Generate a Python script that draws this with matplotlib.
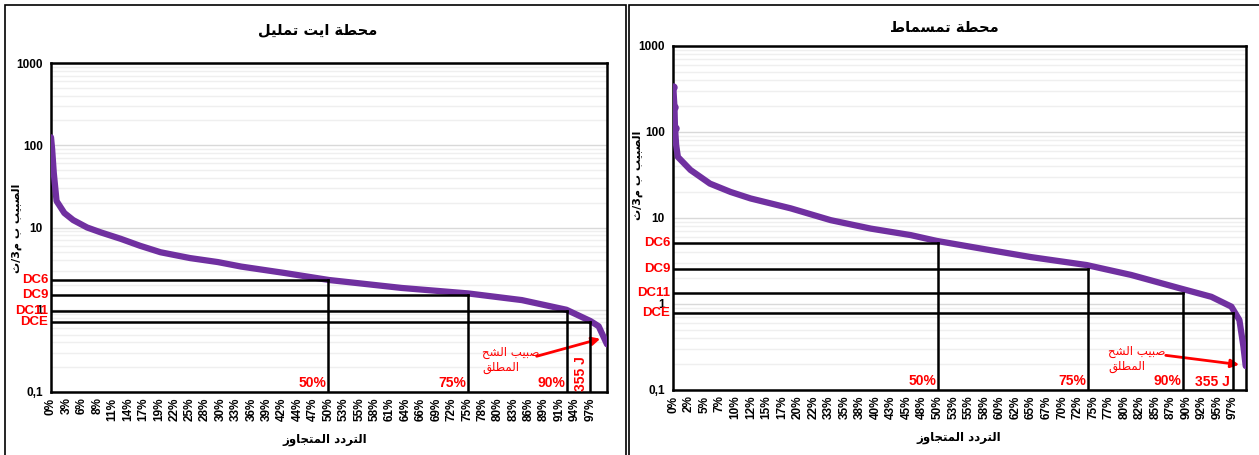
import numpy as np
import matplotlib
matplotlib.use("Agg")
import matplotlib.pyplot as plt
from matplotlib.patches import Rectangle

# ---- data ----
# left station (ايت تمليل)
left_title = "محطة ايت تمليل"
left_pos = [0.0, 0.002, 0.005, 0.01, 0.024, 0.04, 0.065, 0.09, 0.125, 0.16, 0.197, 0.25,
            0.3, 0.342, 0.42, 0.5, 0.631, 0.75, 0.847, 0.927, 0.97, 0.985, 1.0]
left_q = [125, 90, 46, 21, 15, 12.3, 10, 8.7, 7.3, 6.0, 5.0, 4.25,
          3.8, 3.35, 2.8, 2.3, 1.84, 1.58, 1.31, 1.0, 0.73, 0.63, 0.38]
left_ticks = ["0%", "3%", "6%", "8%", "11%", "14%", "17%", "19%", "22%", "25%", "28%", "30%",
              "33%", "36%", "39%", "42%", "44%", "47%", "50%", "53%", "55%", "58%", "61%", "64%",
              "66%", "69%", "72%", "75%", "78%", "80%", "83%", "86%", "89%", "91%", "94%", "97%"]
left_dc = [2.28, 1.51, 0.96, 0.70]
left_dc_pos = [0.499, 0.75, 0.928, 0.970]

# right station (تمسماط)
right_title = "محطة تمسماط"
right_pos = [0.0, 0.002, 0.003, 0.005, 0.008, 0.03, 0.064, 0.1, 0.135, 0.205, 0.275,
             0.345, 0.415, 0.46, 0.555, 0.625, 0.722, 0.8, 0.888, 0.94, 0.975,
             0.989, 0.996, 1.0]
right_q = [330, 195, 110, 70, 51, 36, 25, 20, 16.8, 12.9, 9.4,
           7.5, 6.3, 5.4, 4.2, 3.5, 2.83, 2.17, 1.5, 1.21, 0.93,
           0.65, 0.32, 0.19]
right_ticks = ["0%", "2%", "5%", "7%", "10%", "12%", "15%", "17%", "20%", "22%", "33%", "35%",
               "38%", "40%", "43%", "45%", "48%", "50%", "53%", "55%", "58%", "60%", "62%", "65%",
               "67%", "70%", "72%", "75%", "77%", "80%", "82%", "85%", "87%", "90%", "92%", "95%", "97%"]
right_dc = [5.06, 2.54, 1.34, 0.78]
right_dc_pos = [0.462, 0.725, 0.89, 0.978]

dc_names = ["DC6", "DC9", "DC11", "DCE"]
pct_names = ["50%", "75%", "90%", "355 J"]

# ---- minimal arabic shaping (presentation forms, visual order) ----
FORMS = {
    "ا": (0xFE8D, 0xFE8E, None, None), "ب": (0xFE8F, 0xFE90, 0xFE91, 0xFE92),
    "ة": (0xFE93, 0xFE94, None, None), "ت": (0xFE95, 0xFE96, 0xFE97, 0xFE98),
    "ث": (0xFE99, 0xFE9A, 0xFE9B, 0xFE9C), "ج": (0xFE9D, 0xFE9E, 0xFE9F, 0xFEA0),
    "ح": (0xFEA1, 0xFEA2, 0xFEA3, 0xFEA4), "د": (0xFEA9, 0xFEAA, None, None),
    "ر": (0xFEAD, 0xFEAE, None, None), "ز": (0xFEAF, 0xFEB0, None, None),
    "س": (0xFEB1, 0xFEB2, 0xFEB3, 0xFEB4), "ش": (0xFEB5, 0xFEB6, 0xFEB7, 0xFEB8),
    "ص": (0xFEB9, 0xFEBA, 0xFEBB, 0xFEBC), "ط": (0xFEC1, 0xFEC2, 0xFEC3, 0xFEC4),
    "ق": (0xFED5, 0xFED6, 0xFED7, 0xFED8), "ل": (0xFEDD, 0xFEDE, 0xFEDF, 0xFEE0),
    "م": (0xFEE1, 0xFEE2, 0xFEE3, 0xFEE4), "و": (0xFEED, 0xFEEE, None, None),
    "ي": (0xFEF1, 0xFEF2, 0xFEF3, 0xFEF4),
}


def ar(text):
    lines = []
    for line in text.split("\n"):
        out = []
        for i, ch in enumerate(line):
            if ch not in FORMS:
                out.append(ch)
                continue
            prev = line[i - 1] if i > 0 else ""
            nxt = line[i + 1] if i + 1 < len(line) else ""
            f = FORMS[ch]
            jp = prev in FORMS and FORMS[prev][2] is not None
            jn = nxt in FORMS and f[2] is not None
            if jp and jn:
                c = f[3]
            elif jp:
                c = f[1]
            elif jn:
                c = f[2]
            else:
                c = f[0]
            out.append(chr(c))
        lines.append("".join(reversed(out)))
    return "\n".join(lines)


W, H = 1259, 455
fig = plt.figure(figsize=(W / 100, H / 100), dpi=100)
LAT = ["Liberation Sans", "DejaVu Sans"]
ARF = ["DejaVu Sans"]


def px(x, y):
    return x / W, 1 - y / H


# panel frames
fig.add_artist(Rectangle(px(5, 460), 621 / W, 455 / H, transform=fig.transFigure,
                         fill=False, lw=1.2, ec="black"))
fig.add_artist(Rectangle(px(629, 460), 640 / W, 455 / H, transform=fig.transFigure,
                         fill=False, lw=1.2, ec="black"))


def panel(rect, pos, q, ticks, tick_end, dc, dc_pos, title, tpos, ylpos, xlpos,
          ann_from, ann_to, j_rot, n_dots):
    ax = fig.add_axes(rect)
    ax.set_yscale("log")
    ax.set_ylim(0.1, 1000)
    ax.set_xlim(0, 1)
    ax.grid(True, which="major", axis="y", color="#d9d9d9", lw=1)
    ax.grid(True, which="minor", axis="y", color="#efefef", lw=1)
    ax.set_axisbelow(True)
    for s in ax.spines.values():
        s.set_linewidth(1.8)
    ax.tick_params(which="both", length=0)

    ax.plot(pos, q, color="#7030A0", lw=4.5, solid_capstyle="round", zorder=3)
    if n_dots:
        ax.plot(pos[:n_dots], q[:n_dots], "o", color="#7030A0", ms=5, zorder=3)

    # DC lines
    for d, p, name in zip(dc, dc_pos, dc_names):
        ax.plot([0, p], [d, d], color="black", lw=1.8, zorder=4)
        ax.plot([p, p], [0.1, d], color="black", lw=1.8, zorder=4)
        ax.text(-0.005, d, name, color="red", fontweight="bold", fontsize=9.5,
                family=LAT, ha="right", va="center", transform=ax.get_yaxis_transform())
    for p, name in zip(dc_pos[:3], pct_names[:3]):
        ax.text(p - 0.003, 0.106, name, color="red", fontweight="bold", fontsize=10,
                family=LAT, ha="right", va="bottom")
    if j_rot:
        ax.text(dc_pos[3] - 0.004, 0.104, pct_names[3], color="red", fontweight="bold",
                fontsize=10, family=LAT, ha="right", va="bottom", rotation=90)
    else:
        ax.text(dc_pos[3] - 0.006, 0.103, pct_names[3], color="red", fontweight="bold",
                fontsize=10, family=LAT, ha="right", va="bottom")

    ax.annotate("", xy=ann_to, xytext=ann_from, xycoords="figure pixels",
                textcoords="figure pixels",
                arrowprops=dict(arrowstyle="-|>", color="red", lw=2, mutation_scale=12))

    # ticks
    tpx = np.arange(len(ticks)) * tick_end / (len(ticks) - 1)
    ax.set_xticks(tpx)
    ax.set_xticklabels(ticks, rotation=90, fontweight="bold", fontsize=8.5, family=LAT)
    ax.set_yticks([0.1, 1, 10, 100, 1000])
    ax.set_yticklabels(["0,1", "1", "10", "100", "1000"], fontweight="bold", fontsize=8.5,
                       family=LAT)
    ax.yaxis.set_minor_formatter(plt.NullFormatter())
    ax.tick_params(axis="y", pad=6)
    ax.tick_params(axis="x", pad=4)

    fig.text(*px(*tpos), ar(title), family=ARF, fontweight="bold", fontsize=10.5,
             ha="center", va="center")
    fig.text(*px(*ylpos), ar("الصبيب ب م3/ث"), family=ARF, fontweight="bold", fontsize=8,
             ha="center", va="center", rotation=90)
    fig.text(*px(*xlpos), ar("التردد المتجاوز"), family=ARF, fontweight="bold", fontsize=8.5,
             ha="center", va="center")
    return ax


ann = "صبيب الشح\nالمطلق"

axl = panel([51 / W, 63 / H, 556 / W, 329 / H], left_pos, left_q, left_ticks, 0.97,
            left_dc, left_dc_pos, left_title, (318, 30), (17, 228), (325, 440),
            (534, H - 357), (603, H - 338), True, 0)
fig.text(*px(482, 360), ar(ann), family=ARF, fontsize=8.5, color="red",
         ha="left", va="center", multialignment="left")

axr = panel([673.3 / W, 65 / H, 572.4 / W, 344.3 / H], right_pos, right_q, right_ticks, 0.978,
            right_dc, right_dc_pos, right_title, (944, 27), (638, 175), (959, 437),
            (1163, H - 355), (1242, H - 365), False, 3)
fig.text(*px(1108, 359), ar(ann), family=ARF, fontsize=8.5, color="red",
         ha="left", va="center", multialignment="left")

fig.savefig("out.png", dpi=100)
